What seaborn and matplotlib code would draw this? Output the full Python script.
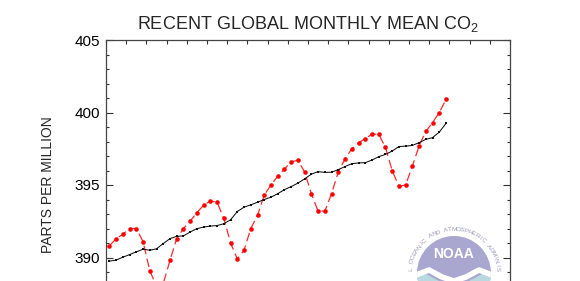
import numpy as np
import pandas as pd
import matplotlib
matplotlib.use("Agg")
import matplotlib.pyplot as plt
import seaborn as sns
from matplotlib.patches import Circle, Polygon

# ---------------- data ----------------
start_year = 2011
monthly_mean = [
    390.8, 391.3, 391.6, 392.0, 392.0, 391.1, 389.1, 388.0, 388.2, 389.8, 391.3, 392.0,  # 2011
    392.5, 393.1, 393.6, 393.9, 393.8, 392.7, 391.0, 389.9, 390.5, 392.0, 392.9, 394.3,  # 2012
    395.0, 395.6, 396.1, 396.6, 396.7, 395.9, 394.4, 393.2, 393.2, 394.4, 395.9, 396.8,  # 2013
    397.5, 397.9, 398.2, 398.5, 398.5, 397.6, 396.0, 394.9, 395.0, 396.3, 397.7, 398.7,  # 2014
    399.3, 400.0, 400.9,                                                                  # 2015
]
trend = [
    389.75, 389.82, 390.02, 390.20, 390.39, 390.57, 390.50, 390.60, 390.96, 391.30, 391.46, 391.49,
    391.76, 391.99, 392.10, 392.17, 392.20, 392.33, 392.60, 393.17, 393.47, 393.63, 393.81, 394.00,
    394.16, 394.40, 394.68, 394.89, 395.13, 395.42, 395.75, 395.92, 395.87, 395.88, 396.06, 396.27,
    396.47, 396.52, 396.54, 396.72, 396.95, 397.11, 397.34, 397.65, 397.68, 397.73, 397.92, 398.15,
    398.27, 398.65, 399.25,
]
title_text = r"RECENT GLOBAL MONTHLY MEAN CO$_2$"
y_label = "PARTS PER MILLION"
y_ticks = [385, 390, 395, 400, 405]
y_tick_labels = ["", "390", "395", "400", "405"]
x_range = [2011, 2016]
logo_word = "NOAA"
logo_ring = "NATIONAL OCEANIC AND ATMOSPHERIC ADMINISTRATION"

month_index = np.arange(len(monthly_mean))
decimal_year = start_year + (month_index + 0.5) / 12.0
df = pd.DataFrame({"date": decimal_year, "mean": monthly_mean, "trend": trend})

# ---------------- style ----------------
sns.set_style("ticks")
plt.rcParams["font.family"] = ["Liberation Sans", "DejaVu Sans"]
plt.rcParams["mathtext.fontset"] = "custom"
plt.rcParams["mathtext.rm"] = "Liberation Sans"
plt.rcParams["mathtext.it"] = "Liberation Sans"
plt.rcParams["mathtext.bf"] = "Liberation Sans:bold"
plt.rcParams["mathtext.default"] = "regular"

W, H = 580, 281
fig = plt.figure(figsize=(W / 100, H / 100), dpi=100)
# axes box in pixels: left 106, right 510, top 40, bottom 330 (below the canvas)
L, R, T, B = 106, 510, 40, 330
ax = fig.add_axes([L / W, (H - B) / H, (R - L) / W, (B - T) / H])

sns.lineplot(data=df, x="date", y="mean", ax=ax, color="#ff2a2a", linewidth=0.9,
             linestyle=(0, (7, 3.5)), marker="o", markersize=3.3,
             markeredgewidth=0, markerfacecolor="red", zorder=3)
sns.lineplot(data=df, x="date", y="trend", ax=ax, color="#111111", linewidth=0.75,
             marker="s", markersize=2.1, markeredgewidth=0, zorder=4)

ax.set_xlim(*x_range)
ax.set_ylim(y_ticks[0], y_ticks[-1])
ax.set_yticks(y_ticks)
ax.set_yticklabels(y_tick_labels)
ax.set_yticks(np.arange(y_ticks[0], y_ticks[-1] + 1, 1), minor=True)
ax.set_xticks(np.arange(x_range[0], x_range[1] + 1, 1))
ax.set_xticks(np.arange(x_range[0], x_range[1] + 0.01, 0.25), minor=True)

ax.tick_params(axis="y", which="both", direction="in", left=True, right=True,
               labelsize=11, pad=4, colors="#333333", labelcolor="black")
ax.tick_params(axis="y", which="major", length=5, width=0.8)
ax.tick_params(axis="y", which="minor", length=2.5, width=0.8)
ax.tick_params(axis="x", which="both", direction="in", top=True, bottom=True,
               labelbottom=False, length=3, width=0.8, colors="#333333")

for s in ax.spines.values():
    s.set_color("#444444")
    s.set_linewidth(0.9)

ax.set_xlabel("")
ax.set_ylabel(y_label, fontsize=10, labelpad=14)
ax.set_title(title_text, fontsize=13, pad=8)

# ---------------- NOAA-style emblem (decoration) ----------------
lx, ly, ls = 404, 223, 100
lax = fig.add_axes([lx / W, (H - ly - ls) / H, ls / W, ls / H])
lax.set_xlim(-50, 50)
lax.set_ylim(-50, 50)
lax.axis("off")
disc = Circle((0, 0), 37, facecolor="#a9a7cf", edgecolor="none")
lax.add_patch(disc)
lower = Polygon([(-50, -6), (-30, 0), (-15, -8), (0, -12), (15, -8), (30, 0), (50, -6),
                 (50, -60), (-50, -60)], closed=True, facecolor="#b9d9e0", edgecolor="none")
lax.add_patch(lower)
lower.set_clip_path(disc)
wave, = lax.plot([-38, -25, -12, 0, 12, 25, 38], [-2, 3, -4, -8, -4, 3, -2], color="white",
                 linewidth=4, solid_capstyle="round")
wave.set_clip_path(disc)
lax.text(0, 19, logo_word, color="white", fontsize=10, fontweight="bold",
         ha="center", va="center")
# ring lettering: only the part of the ring that lies on the canvas is drawn
angles = np.linspace(212, -32, len(logo_ring))
r = 43.5
for ch, a in zip(logo_ring, angles):
    yy = r * np.sin(np.radians(a))
    if yy < 0:
        continue
    lax.text(r * np.cos(np.radians(a)), yy, ch,
             rotation=a - 90, rotation_mode="anchor", ha="center", va="center",
             fontsize=4.6, color="#9a9ab5")

fig.savefig("out.png", dpi=100)
